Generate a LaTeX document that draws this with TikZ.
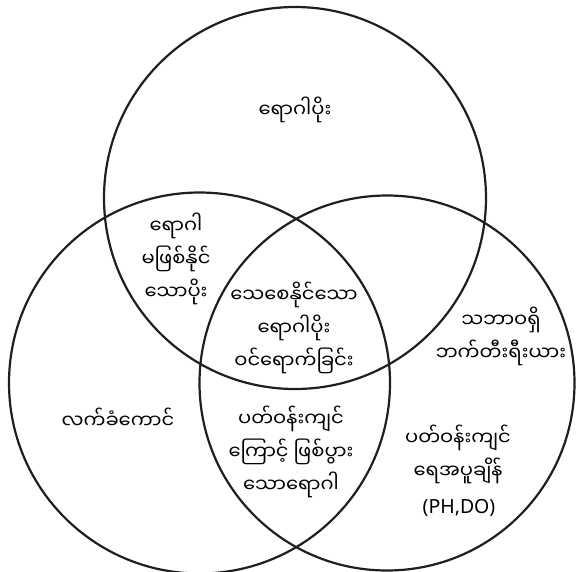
\documentclass[tikz,border=0pt]{standalone}
\usepackage{fontspec}
\newfontfamily\mm[Script=Myanmar]{Noto Sans Myanmar UI}
\newfontfamily\lat{Noto Sans}
\begin{document}
\begin{tikzpicture}[x=1pt,y=-1pt,
  ring/.style={draw=black!88,line width=2.2pt},
  lbl/.style={align=center,inner sep=0pt,font=\mm\fontsize{19.5}{33}\selectfont}]
\useasboundingbox (0,0) rectangle (576,571);
\draw[ring] (295,198) circle (191);
\draw[ring] (199.5,383) circle (190.5);
\draw[ring] (387,383) circle (187.5);
\node[lbl] (top) at (295,110) {ရောဂါပိုး};
\node[lbl] (tl) at (176,259) {ရောဂါ\\မဖြစ်နိုင်\\သောပိုး};
\node[lbl] (mid) at (294,328) {သေစေနိုင်သော\\ရောဂါပိုး\\ဝင်ရောက်ခြင်း};
\node[lbl] (tr) at (501,336) {သဘာဝရှိ\\ဘက်တီးရီးယား};
\node[lbl] (left) at (118,418) {လက်ခံကောင်};
\node[lbl] (bm) at (291,452) {ပတ်ဝန်းကျင်\\ကြောင့် ဖြစ်ပွား\\သောရောဂါ};
\node[lbl] (br) at (458,454) {ပတ်ဝန်းကျင်\\ရေအပူချိန်};
\node[inner sep=0pt,font=\lat\fontsize{19.5}{24}\selectfont] (ph) at (459,508) {(PH,DO)};
\end{tikzpicture}
\end{document}
